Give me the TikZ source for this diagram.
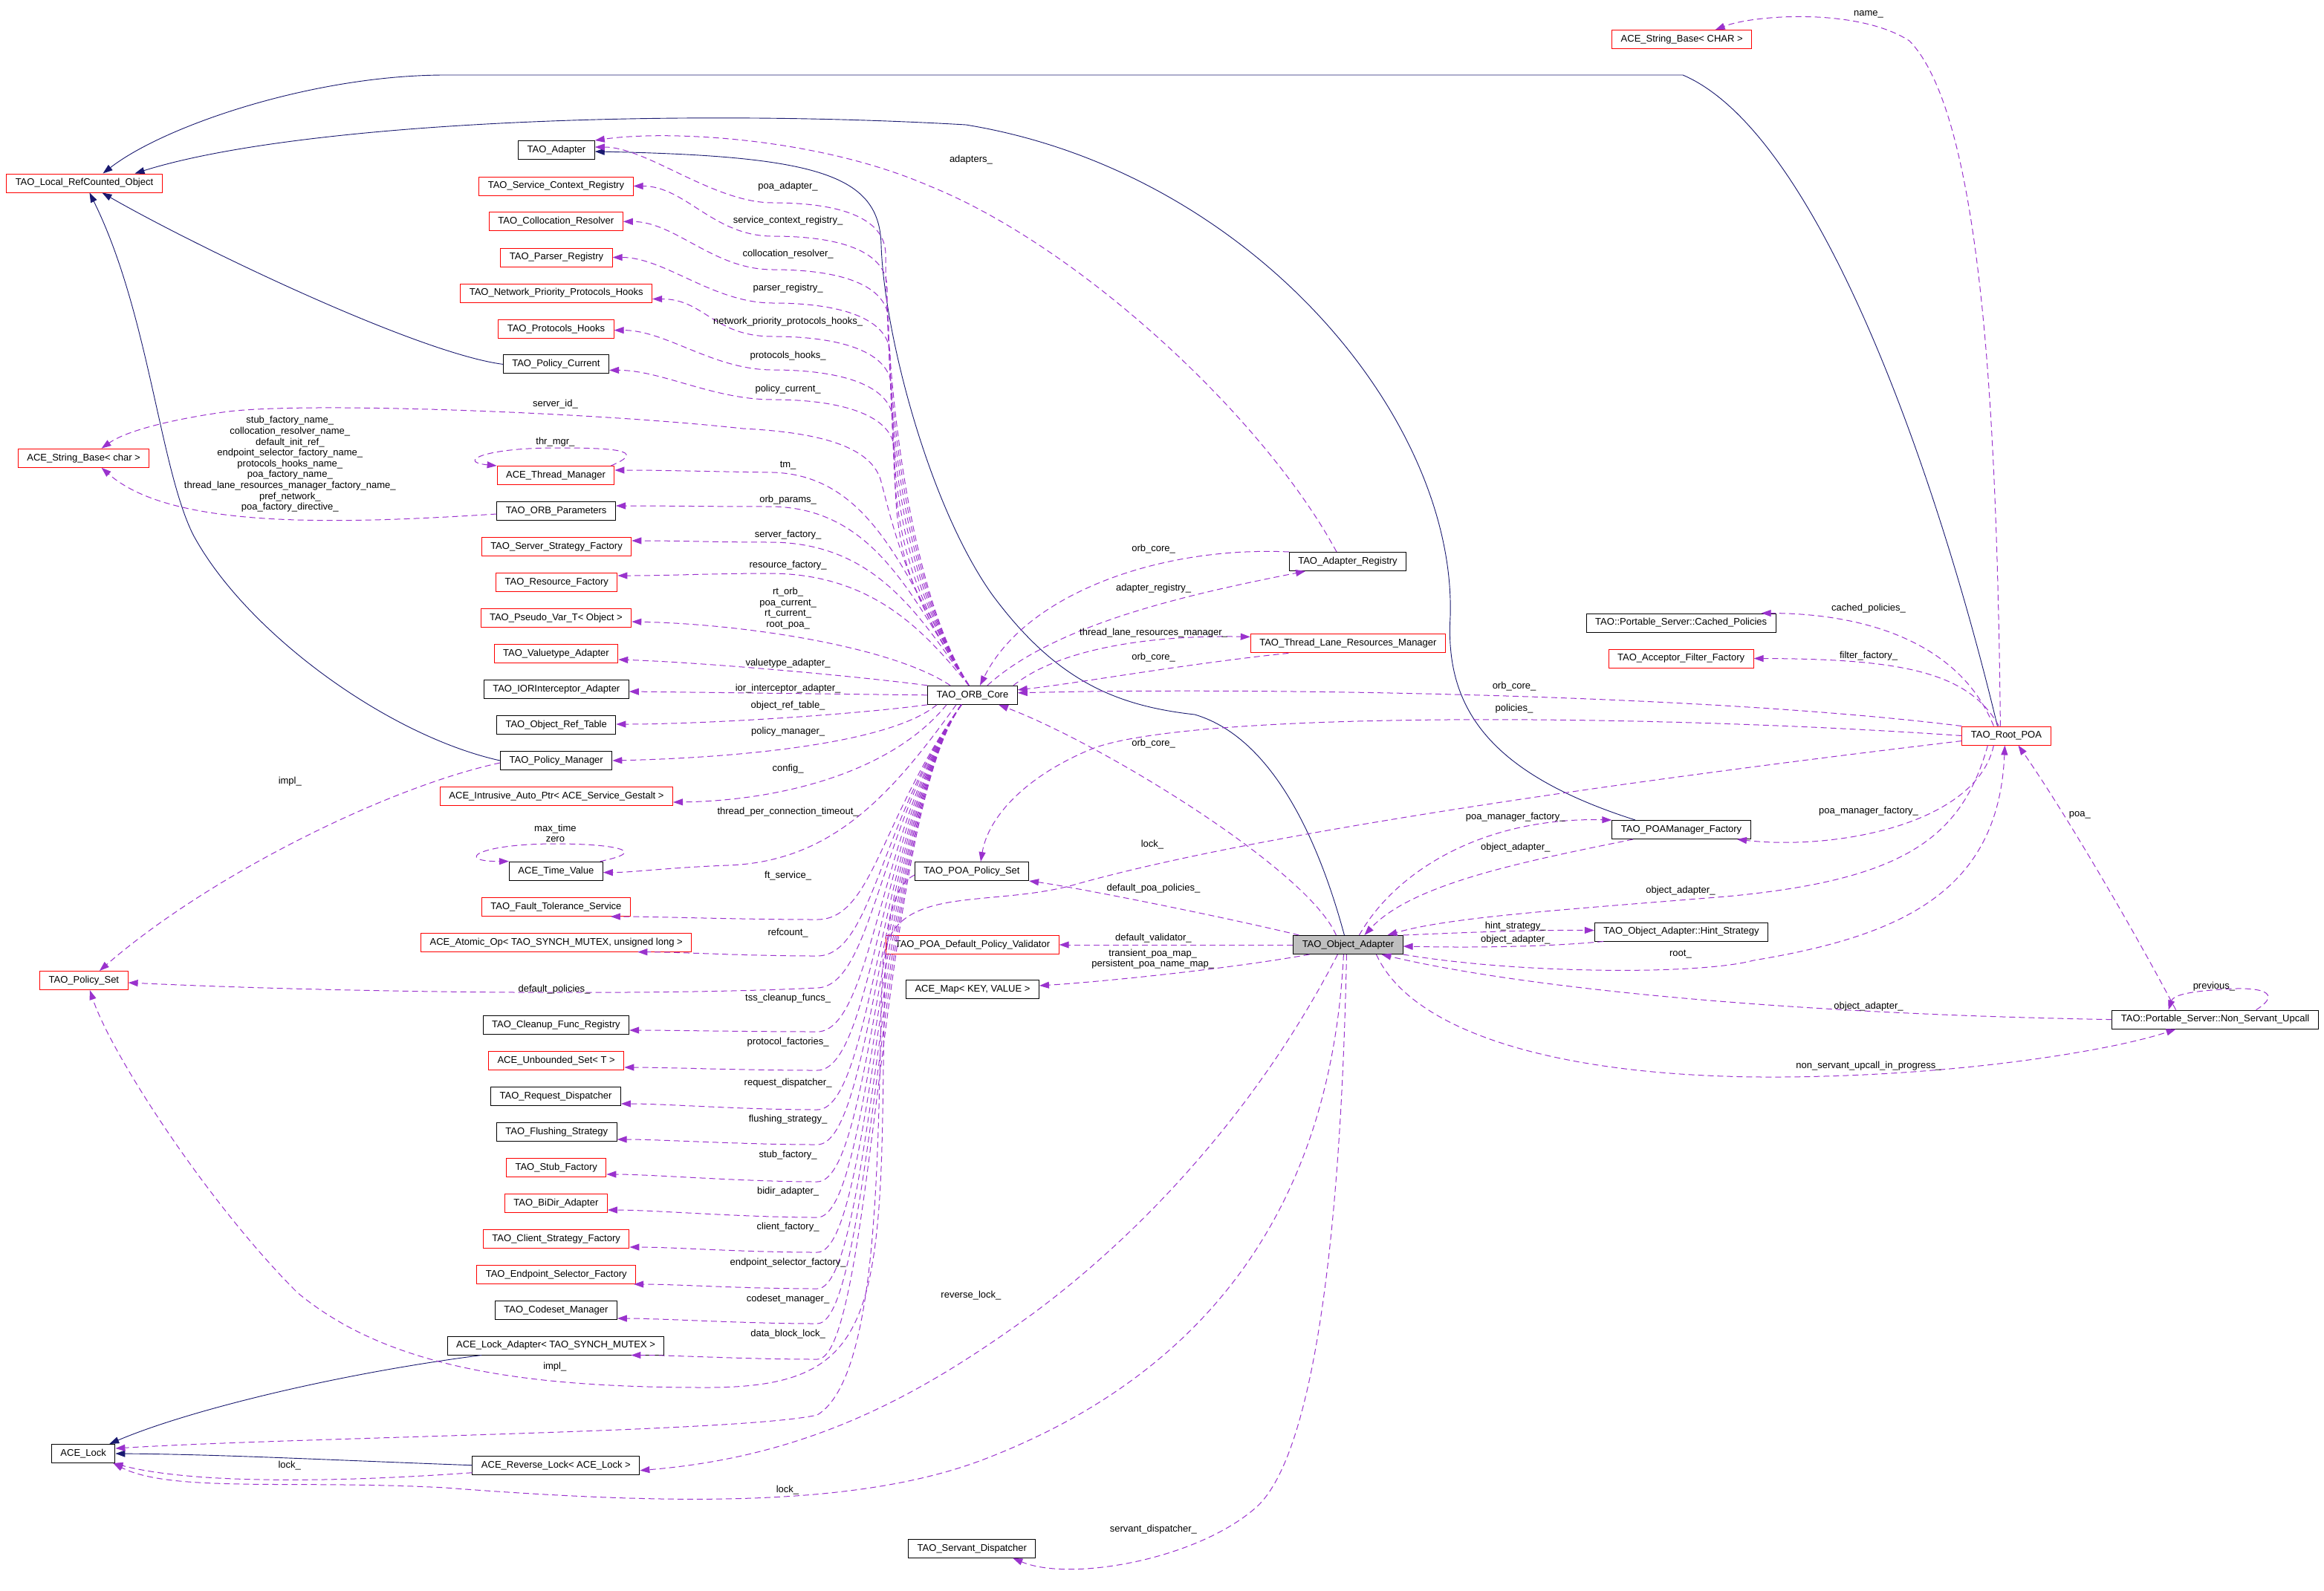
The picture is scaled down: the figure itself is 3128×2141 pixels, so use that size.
\documentclass[tikz,border=0pt]{standalone}
\usepackage{fontspec}
\setmainfont{Liberation Sans}
\usetikzlibrary{arrows.meta}
\definecolor{usecol}{HTML}{9A32CD}
\definecolor{inhcol}{HTML}{191970}
\definecolor{selfcol}{HTML}{BFBFBF}
\newcommand{\dfont}{\fontsize{13}{14.6}\selectfont}

\begin{document}
\begin{tikzpicture}[x=1pt,y=-1pt,
  cls/.style={draw=black,line width=1pt,inner xsep=12pt,inner ysep=0pt,minimum height=25pt,font=\dfont},
  undoc/.style={cls,draw=red},
  dep/.style={draw=usecol,line width=1pt,dash pattern=on 8pt off 5pt,-{Triangle[length=13pt,width=9pt]}},
  inh/.style={draw=inhcol,line width=0.9pt,-{Triangle[length=13pt,width=9pt]}},
  lab/.style={font=\dfont,inner sep=0pt,align=center}]
\fill[white] (0,0) rectangle (3128,2141);
\useasboundingbox (0,0) rectangle (3128,2141);

% classes
\node[undoc] (lrc) at (113.5,246.5) {TAO\_Local\_RefCounted\_Object};
\node[undoc] (sbc) at (112.6,616.7) {ACE\_String\_Base< char >};
\node[undoc] (pst) at (112.9,1320) {TAO\_Policy\_Set};
\node[cls] (ack) at (112.2,1957) {ACE\_Lock};

\node[cls] (adp) at (749,202) {TAO\_Adapter};
\node[undoc] (scr) at (748.4,250.5) {TAO\_Service\_Context\_Registry};
\node[undoc] (col) at (748.4,298.3) {TAO\_Collocation\_Resolver};
\node[undoc] (par) at (749,346.5) {TAO\_Parser\_Registry};
\node[undoc] (npp) at (748.7,394.5) {TAO\_Network\_Priority\_Protocols\_Hooks};
\node[undoc] (phk) at (748.4,442.6) {TAO\_Protocols\_Hooks};
\node[cls] (pcu) at (748.4,490.4) {TAO\_Policy\_Current};
\node[undoc] (thm) at (748,640) {ACE\_Thread\_Manager};
\node[cls] (orp) at (748.7,688) {TAO\_ORB\_Parameters};
\node[undoc] (ssf) at (749,736) {TAO\_Server\_Strategy\_Factory};
\node[undoc] (rsf) at (749.3,784) {TAO\_Resource\_Factory};
\node[undoc] (psv) at (748.4,832) {TAO\_Pseudo\_Var\_T< Object >};
\node[undoc] (vta) at (748.4,880) {TAO\_Valuetype\_Adapter};
\node[cls] (ior) at (748.8,928) {TAO\_IORInterceptor\_Adapter};
\node[cls] (ort) at (748.7,976) {TAO\_Object\_Ref\_Table};
\node[cls] (pmg) at (748.7,1024) {TAO\_Policy\_Manager};
\node[undoc] (iap) at (749,1072) {ACE\_Intrusive\_Auto\_Ptr< ACE\_Service\_Gestalt >};
\node[cls] (tmv) at (748.4,1172.6) {ACE\_Time\_Value};
\node[undoc] (fts) at (748.4,1221) {TAO\_Fault\_Tolerance\_Service};
\node[undoc] (ato) at (748.7,1268.7) {ACE\_Atomic\_Op< TAO\_SYNCH\_MUTEX, unsigned long >};
\node[cls] (cln) at (748.4,1380) {TAO\_Cleanup\_Func\_Registry};
\node[undoc] (ubs) at (748.7,1428) {ACE\_Unbounded\_Set< T >};
\node[cls] (rqd) at (748,1476) {TAO\_Request\_Dispatcher};
\node[cls] (fls) at (749.3,1524) {TAO\_Flushing\_Strategy};
\node[undoc] (stf) at (748.7,1572) {TAO\_Stub\_Factory};
\node[undoc] (bda) at (748.4,1620) {TAO\_BiDir\_Adapter};
\node[undoc] (csf) at (748.7,1668) {TAO\_Client\_Strategy\_Factory};
\node[undoc] (esf) at (748.7,1716) {TAO\_Endpoint\_Selector\_Factory};
\node[cls] (csm) at (748.4,1764) {TAO\_Codeset\_Manager};
\node[cls] (lad) at (748,1811.5) {ACE\_Lock\_Adapter< TAO\_SYNCH\_MUTEX >};
\node[cls] (rvl) at (748.4,1972.7) {ACE\_Reverse\_Lock< ACE\_Lock >};

\node[cls] (orb) at (1309,935.8) {TAO\_ORB\_Core};
\node[cls] (pps) at (1308,1173) {TAO\_POA\_Policy\_Set};
\node[undoc] (pdv) at (1309,1272) {TAO\_POA\_Default\_Policy\_Validator};
\node[cls] (amp) at (1309,1332) {ACE\_Map< KEY, VALUE >};
\node[cls] (svd) at (1308.3,2084.8) {TAO\_Servant\_Dispatcher};

\node[cls,fill=selfcol] (oa) at (1814.4,1272) {TAO\_Object\_Adapter};
\node[cls] (adr) at (1814,756) {TAO\_Adapter\_Registry};
\node[undoc] (tlr) at (1814.4,866.4) {TAO\_Thread\_Lane\_Resources\_Manager};

\node[undoc] (sbC) at (2263.7,53.1) {ACE\_String\_Base< CHAR >};
\node[cls] (cpl) at (2262.7,838.5) {TAO::Portable\_Server::Cached\_Policies};
\node[undoc] (aff) at (2262.6,886.5) {TAO\_Acceptor\_Filter\_Factory};
\node[undoc] (rpo) at (2700.4,990.5) {TAO\_Root\_POA};
\node[cls] (pmf) at (2263,1117) {TAO\_POAManager\_Factory};
\node[cls] (hst) at (2263,1254.5) {TAO\_Object\_Adapter::Hint\_Strategy};
\node[cls] (nsu) at (2981.6,1372.6) {TAO::Portable\_Server::Non\_Servant\_Upcall};

% inheritance
\path[draw,inh] ([xshift=-5pt]oa.north) .. controls (1780,1150) and (1720,995) .. (1608,962) .. controls (1500,950) and (1420,915) .. (1335,800) .. controls (1250,680) and (1190,450) .. (1186,330) .. controls (1184,235) and (1100,210) .. ([yshift=-2pt]adp.east);
\path[draw,inh] ([xshift=-12pt]rpo.north) .. controls (2610,650) and (2450,180) .. (2265,101) -- (600,101) .. controls (420,101) and (220,170) .. ([xshift=25pt]lrc.north);
\path[draw,inh] ([xshift=-62pt]pmf.north) .. controls (2000,1040) and (1945,950) .. (1952,830) .. controls (1960,560) and (1680,230) .. (1300,168) .. controls (900,145) and (400,165) .. ([xshift=68pt]lrc.north);
\path[draw,inh] (pcu.west) .. controls (560,475) and (260,330) .. ([xshift=24pt]lrc.south);
\path[draw,inh] (pmg.west) .. controls (520,990) and (330,850) .. (260,720) .. controls (215,630) and (200,420) .. ([xshift=7pt]lrc.south);
\path[draw,inh] ([xshift=-100pt]lad.south) .. controls (450,1850) and (250,1900) .. ([xshift=35pt]ack.north);
\path[draw,inh] (rvl.west) .. controls (450,1966) and (300,1958) .. (ack.east);

% members of TAO_ORB_Core, upper fan
\path[draw,dep] ([xshift=-5pt]orb.north) .. controls (1215,780) and (1192,473) .. (1192,343) .. controls (1192,293) and (1130,273) .. (1040,273) .. controls (960,273) and +(70,0) .. ([yshift=4pt]adp.east);
\path[draw,dep] ([xshift=-5pt]orb.north) .. controls (1215,780) and (1194,518) .. (1194,388) .. controls (1194,338) and (1130,318) .. (1040,318) .. controls (960,318) and +(70,0) .. (scr.east);
\path[draw,dep] ([xshift=-5pt]orb.north) .. controls (1215,780) and (1196,563) .. (1196,433) .. controls (1196,383) and (1130,363) .. (1040,363) .. controls (960,363) and +(70,0) .. (col.east);
\path[draw,dep] ([xshift=-5pt]orb.north) .. controls (1215,780) and (1198,608) .. (1198,478) .. controls (1198,428) and (1130,408) .. (1040,408) .. controls (960,408) and +(70,0) .. (par.east);
\path[draw,dep] ([xshift=-5pt]orb.north) .. controls (1215,780) and (1200,653) .. (1200,523) .. controls (1200,473) and (1130,453) .. (1040,453) .. controls (960,453) and +(70,0) .. ([yshift=-8pt]npp.east);
\path[draw,dep] ([xshift=-5pt]orb.north) .. controls (1215,780) and (1202,698) .. (1202,568) .. controls (1202,518) and (1130,498) .. (1040,498) .. controls (960,498) and +(70,0) .. ([yshift=-2pt]phk.east);
\path[draw,dep] ([xshift=-5pt]orb.north) .. controls (1218,790) and (1204,738) .. (1204,608) .. controls (1204,558) and (1130,538) .. (1040,538) .. controls (960,538) and +(70,0) .. ([yshift=-8pt]pcu.east);
\path[draw,dep] ([xshift=-5pt]orb.north) .. controls (1220,800) and (1200,700) .. (1185,645) .. controls (1170,600) and (1100,582) .. (1000,577) .. controls (800,555) and (400,540) .. (300,555) .. controls (230,565) and (170,580) .. ([xshift=24pt]sbc.north);
\path[draw,dep] ([xshift=-5pt]orb.north) .. controls (1222,790) and (1180,640) .. (1040,636) .. controls (960,635) and +(70,0) .. ([yshift=7pt]thm.east);
\path[draw,dep] ([xshift=-5pt]orb.north) .. controls (1230,810) and (1180,685) .. (1040,682) .. controls (960,682) and +(70,0) .. ([yshift=7pt]orp.east);
\path[draw,dep] ([xshift=-5pt]orb.north) .. controls (1238,830) and (1180,732) .. (1040,730) .. controls (960,730) and +(70,0) .. ([yshift=8pt]ssf.east);
\path[draw,dep] ([xshift=-5pt]orb.north) .. controls (1248,855) and (1180,774) .. (1040,772) .. controls (960,772) and +(70,0) .. ([yshift=9pt]rsf.east);
\path[draw,dep] ([xshift=-30pt]orb.north) .. controls (1200,870) and (1000,840) .. ([yshift=-5pt]psv.east);
\path[draw,dep] (orb.north west) .. controls (1150,910) and (950,892) .. ([yshift=-8pt]vta.east);
\path[draw,dep] (orb.west) -- ([yshift=-3pt]ior.east);
% members of TAO_ORB_Core, lower fan
\path[draw,dep] (orb.south west) .. controls (1150,962) and (950,975) .. ([yshift=1pt]ort.east);
\path[draw,dep] ([xshift=-48pt]orb.south) .. controls (1200,1000) and (1000,1020) .. (pmg.east);
\path[draw,dep] ([xshift=-35pt]orb.south) .. controls (1200,1040) and (1050,1078) .. ([yshift=-8pt]iap.east);
\path[draw,dep] ([xshift=-22pt]orb.south) .. controls (1200,1070) and (1120,1160) .. (980,1165) .. controls (900,1168) and +(40,0) .. ([yshift=-2pt]tmv.east);
\path[draw,dep] ([xshift=-15pt]orb.south) .. controls (1185,1100) and (1175,1238) .. (1100,1238) .. controls (1000,1238) and +(60,0) .. ([xshift=-27pt]fts.south east);
\path[draw,dep] ([xshift=-15pt]orb.south) .. controls (1185,1100) and (1175,1287) .. (1100,1287) .. controls (1000,1287) and +(60,0) .. ([xshift=-73pt]ato.south east);
\path[draw,dep] ([xshift=-15pt]orb.south) .. controls (1185,1100) and (1175,1328) .. (1100,1330) .. controls (900,1340) and (500,1338) .. ([yshift=-3pt]pst.east);
\path[draw,dep] ([xshift=-15pt]orb.south) .. controls (1185,1100) and (1175,1389) .. (1100,1389) .. controls (1000,1389) and +(60,0) .. ([yshift=-7pt]cln.east);
\path[draw,dep] ([xshift=-15pt]orb.south) .. controls (1185,1100) and (1175,1441) .. (1100,1441) .. controls (1000,1441) and +(60,0) .. ([yshift=-9pt]ubs.east);
\path[draw,dep] ([xshift=-15pt]orb.south) .. controls (1185,1100) and (1175,1494) .. (1100,1494) .. controls (1000,1494) and +(60,0) .. ([yshift=-10pt]rqd.east);
\path[draw,dep] ([xshift=-15pt]orb.south) .. controls (1185,1100) and (1175,1541) .. (1100,1541) .. controls (1000,1541) and +(60,0) .. ([yshift=-10pt]fls.east);
\path[draw,dep] ([xshift=-15pt]orb.south) .. controls (1185,1100) and (1175,1591) .. (1100,1591) .. controls (1000,1591) and +(60,0) .. ([yshift=-9pt]stf.east);
\path[draw,dep] ([xshift=-15pt]orb.south) .. controls (1185,1100) and (1175,1639) .. (1100,1639) .. controls (1000,1639) and +(60,0) .. ([yshift=-9pt]bda.east);
\path[draw,dep] ([xshift=-15pt]orb.south) .. controls (1185,1100) and (1175,1686) .. (1100,1686) .. controls (1000,1686) and +(60,0) .. ([yshift=-11pt]csf.east);
\path[draw,dep] ([xshift=-15pt]orb.south) .. controls (1185,1100) and (1175,1735) .. (1100,1735) .. controls (1000,1735) and +(60,0) .. ([xshift=-3pt]esf.south east);
\path[draw,dep] ([xshift=-15pt]orb.south) .. controls (1185,1100) and (1175,1782) .. (1100,1782) .. controls (1000,1782) and +(60,0) .. ([yshift=-11pt]csm.east);
\path[draw,dep] ([xshift=-15pt]orb.south) .. controls (1185,1100) and (1175,1830) .. (1100,1830) .. controls (1000,1830) and +(60,0) .. ([xshift=-45pt]lad.south east);

% other members
\path[draw,dep] ([xshift=-5pt]thm.north east) .. controls (875,605) and (820,603) .. (748,603) .. controls (650,603) and (615,622) .. (thm.north west);
\path[draw,dep] ([xshift=-4pt]tmv.north east) .. controls (880,1145) and (820,1136) .. (748,1136) .. controls (640,1136) and (612,1160) .. (tmv.north west);
\path[draw,dep] ([yshift=-4pt]orp.west) .. controls (450,706) and (230,712) .. ([xshift=24pt]sbc.south);
\path[draw,dep] ([yshift=-3pt]pmg.west) .. controls (520,1060) and (280,1180) .. ([xshift=21pt]pst.north);
\path[draw,dep] ([yshift=-5pt]pps.west) .. controls (1185,1200) and (1192,1300) .. (1188,1500) .. controls (1183,1800) and (1150,1868) .. (950,1868) .. controls (700,1868) and (520,1840) .. (400,1740) .. controls (280,1620) and (150,1420) .. ([xshift=8pt]pst.south);
\path[draw,dep] ([yshift=-10pt]rvl.west) .. controls (450,1996) and (260,1998) .. ([xshift=-3pt]ack.south east);

\path[draw,dep] ([xshift=-15pt]adr.north) .. controls (1700,560) and (1450,330) .. (1250,250) .. controls (1100,185) and (900,175) .. ([yshift=13pt]adp.east);
\path[draw,dep] (adr.north west) .. controls (1560,735) and (1380,800) .. ([xshift=10pt]orb.north);
\path[draw,dep] ([xshift=20pt]orb.north) .. controls (1420,840) and (1600,800) .. ([xshift=-57pt]adr.south);
\path[draw,dep] ([xshift=55pt]orb.north) .. controls (1430,870) and (1560,855) .. ([yshift=9pt]tlr.west);
\path[draw,dep] ([xshift=-80pt]tlr.south) .. controls (1600,893) and (1450,920) .. ([yshift=7pt]orb.east);

\path[draw,dep] (rpo.north west) .. controls (2300,935) and (1700,925) .. ([yshift=3pt]orb.east);
\path[draw,dep] (rpo.west) .. controls (2200,960) and (1600,958) .. (1470,1008) .. controls (1380,1045) and (1330,1100) .. ([xshift=12pt]pps.north);
\path[draw,dep] ([yshift=-7pt]rpo.west) .. controls (2200,1050) and (1700,1120) .. (1450,1190) .. controls (1330,1225) and (1195,1185) .. (1188,1300) .. controls (1180,1500) and (1190,1850) .. (1100,1905) .. controls (1000,1928) and (400,1935) .. ([yshift=7pt]ack.east);
\path[draw,dep] ([xshift=-25pt]rpo.south) .. controls (2640,1130) and (2560,1185) .. (2323,1207) .. controls (2100,1225) and (1950,1235) .. ([xshift=53pt]oa.north);
\path[draw,dep] ([xshift=-17pt]rpo.south) .. controls (2660,1110) and (2470,1145) .. ([xshift=75pt]pmf.south);
\path[draw,dep] ([xshift=-17pt]rpo.north) .. controls (2640,870) and (2520,826) .. ([xshift=108pt]cpl.north);
\path[draw,dep] ([xshift=-10pt]rpo.north) .. controls (2650,905) and (2560,887) .. (aff.east);
\path[draw,dep] ([xshift=-8pt]rpo.north) .. controls (2688,600) and (2672,160) .. (2570,55) .. controls (2500,10) and (2360,20) .. ([xshift=45pt]sbC.north);

\path[draw,dep] ([xshift=-66pt]oa.north) .. controls (1650,1235) and (1450,1195) .. (pps.south east);
\path[draw,dep] (oa.west) -- (pdv.east);
\path[draw,dep] ([xshift=-52pt]oa.south) .. controls (1650,1305) and (1480,1322) .. ([yshift=5pt]amp.east);
\path[draw,dep] ([xshift=-16pt]oa.north) .. controls (1760,1170) and (1480,1000) .. ([xshift=35pt]orb.south);
\path[draw,dep] ([xshift=-14pt]oa.south) .. controls (1700,1480) and (1550,1650) .. (1391,1768) .. controls (1250,1870) and (1100,1960) .. ([yshift=-7pt]rvl.east);
\path[draw,dep] ([xshift=-6pt]oa.south) .. controls (1790,1650) and (1600,1860) .. (1321,1966) .. controls (1150,2030) and (900,2026) .. (600,2003) .. controls (400,1992) and (230,2010) .. ([xshift=-3pt]ack.south east);
\path[draw,dep] ([xshift=-2pt]oa.south) .. controls (1805,1650) and (1770,1960) .. (1690,2030) .. controls (1610,2100) and (1440,2130) .. ([xshift=55pt]svd.south);
\path[draw,dep] ([xshift=15pt]oa.north) .. controls (1880,1170) and (2000,1100) .. (pmf.north west);
\path[draw,dep] ([xshift=-65pt]pmf.south) .. controls (2050,1160) and (1900,1190) .. ([xshift=22pt]oa.north);
\path[draw,dep] (oa.north east) .. controls (1980,1255) and (2060,1252) .. ([yshift=2pt]hst.west);
\path[draw,dep] ([xshift=-105pt]hst.south) .. controls (2080,1275) and (1980,1276) .. ([yshift=-2pt]oa.east);
\path[draw,dep] (oa.south east) .. controls (2050,1312) and (2290,1312) .. (2360,1293) .. controls (2560,1260) and (2690,1200) .. ([xshift=-2pt]rpo.south);
\path[draw,dep] ([xshift=-53pt]nsu.north) .. controls (2860,1230) and (2770,1080) .. ([xshift=16pt]rpo.south);
\path[draw,dep] (nsu.west) .. controls (2400,1365) and (2050,1330) .. ([xshift=45pt]oa.south);
\path[draw,dep] ([xshift=38pt]oa.south) .. controls (1900,1390) and (2100,1452) .. (2400,1450) .. controls (2650,1448) and (2850,1412) .. ([xshift=-53pt]nsu.south);
\path[draw,dep] ([xshift=55pt]nsu.north) .. controls (3075,1335) and (3040,1328) .. (2990,1332) .. controls (2945,1335) and (2925,1340) .. ([xshift=-63pt]nsu.north);

% labels
\node[lab] (t01) at (1060.6,251.6) {poa\_adapter\_};
\node[lab] (t02) at (1060.6,296.8) {service\_context\_registry\_};
\node[lab] (t03) at (1060.6,342.4) {collocation\_resolver\_};
\node[lab] (t04) at (1060.6,388) {parser\_registry\_};
\node[lab] (t05) at (1060.6,432.8) {network\_priority\_protocols\_hooks\_};
\node[lab] (t06) at (1060.6,478.8) {protocols\_hooks\_};
\node[lab] (t07) at (1060.6,524) {policy\_current\_};
\node[lab] (t08) at (1060.6,626.8) {tm\_};
\node[lab] (t09) at (1060.6,672.8) {orb\_params\_};
\node[lab] (t10) at (1060.6,720) {server\_factory\_};
\node[lab] (t11) at (1060.6,760.7) {resource\_factory\_};
\node[lab] (t12) at (1060.6,819) {rt\_orb\_\\poa\_current\_\\rt\_current\_\\root\_poa\_};
\node[lab] (t13) at (1060.6,892.9) {valuetype\_adapter\_};
\node[lab] (t14) at (1060.6,926.9) {ior\_interceptor\_adapter\_};
\node[lab] (t15) at (1060.6,950.5) {object\_ref\_table\_};
\node[lab] (t16) at (1060.6,985) {policy\_manager\_};
\node[lab] (t17) at (1060.6,1035) {config\_};
\node[lab] (t18) at (1060.6,1092.7) {thread\_per\_connection\_timeout\_};
\node[lab] (t19) at (1060.6,1179.3) {ft\_service\_};
\node[lab] (t20) at (1060.6,1256) {refcount\_};
\node[lab] (t21) at (1060.6,1344.4) {tss\_cleanup\_funcs\_};
\node[lab] (t22) at (1060.6,1403.6) {protocol\_factories\_};
\node[lab] (t23) at (1060.6,1458.5) {request\_dispatcher\_};
\node[lab] (t24) at (1060.6,1506.7) {flushing\_strategy\_};
\node[lab] (t25) at (1060.6,1555.3) {stub\_factory\_};
\node[lab] (t26) at (1060.6,1604.3) {bidir\_adapter\_};
\node[lab] (t27) at (1060.6,1652.5) {client\_factory\_};
\node[lab] (t28) at (1060.6,1700) {endpoint\_selector\_factory\_};
\node[lab] (t29) at (1060.6,1748.7) {codeset\_manager\_};
\node[lab] (t30) at (1060.6,1796.4) {data\_block\_lock\_};
\node[lab] (t31) at (1060,2006.4) {lock\_};
\node[lab] (t32) at (747.4,544.2) {server\_id\_};
\node[lab] (t33) at (747.4,595) {thr\_mgr\_};
\node[lab] (t34) at (747.4,1122) {max\_time\\zero};
\node[lab] (t35) at (746,1331.7) {default\_policies\_};
\node[lab] (t36) at (746.8,1840.2) {impl\_};
\node[lab] (t37) at (390.3,624.9) {stub\_factory\_name\_\\collocation\_resolver\_name\_\\default\_init\_ref\_\\endpoint\_selector\_factory\_name\_\\protocols\_hooks\_name\_\\poa\_factory\_name\_\\thread\_lane\_resources\_manager\_factory\_name\_\\pref\_network\_\\poa\_factory\_directive\_};
\node[lab] (t38) at (390.3,1052.3) {impl\_};
\node[lab] (t39) at (389.7,1972.7) {lock\_};
\node[lab] (t40) at (1306.9,215.5) {adapters\_};
\node[lab] (t41) at (1306.9,1743.6) {reverse\_lock\_};
\node[lab] (t42) at (1552.6,738.7) {orb\_core\_};
\node[lab] (t43) at (1552.6,792) {adapter\_registry\_};
\node[lab] (t44) at (1552.6,851.7) {thread\_lane\_resources\_manager\_};
\node[lab] (t45) at (1552.6,885) {orb\_core\_};
\node[lab] (t46) at (1552.6,1000.7) {orb\_core\_};
\node[lab] (t47) at (1551,1136.6) {lock\_};
\node[lab] (t48) at (1552.4,1196) {default\_poa\_policies\_};
\node[lab] (t49) at (1552.4,1263.5) {default\_validator\_};
\node[lab] (t50) at (1551.7,1291.3) {transient\_poa\_map\_\\persistent\_poa\_name\_map\_};
\node[lab] (t51) at (1552.4,2059.3) {servant\_dispatcher\_};
\node[lab] (t52) at (2038,923.8) {orb\_core\_};
\node[lab] (t53) at (2038,954.4) {policies\_};
\node[lab] (t54) at (2039.7,1100) {poa\_manager\_factory\_};
\node[lab] (t55) at (2039.7,1140.7) {object\_adapter\_};
\node[lab] (t56) at (2039.7,1246.7) {hint\_strategy\_};
\node[lab] (t57) at (2039.7,1265) {object\_adapter\_};
\node[lab] (t58) at (2261.9,1198.8) {object\_adapter\_};
\node[lab] (t59) at (2261.9,1284.4) {root\_};
\node[lab] (t60) at (2515,19.2) {name\_};
\node[lab] (t61) at (2515,819.6) {cached\_policies\_};
\node[lab] (t62) at (2515,883.2) {filter\_factory\_};
\node[lab] (t63) at (2515,1092.6) {poa\_manager\_factory\_};
\node[lab] (t64) at (2515,1354.7) {object\_adapter\_};
\node[lab] (t65) at (2515,1435.5) {non\_servant\_upcall\_in\_progress\_};
\node[lab] (t66) at (2799.3,1097) {poa\_};
\node[lab] (t67) at (2979.9,1328.4) {previous\_};
\end{tikzpicture}
\end{document}
